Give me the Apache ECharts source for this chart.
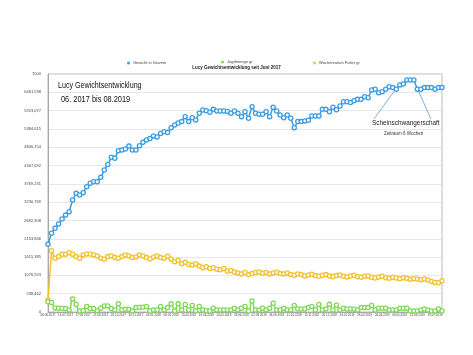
<!DOCTYPE html>
<html><head><meta charset="utf-8">
<script src="https://cdn.jsdelivr.net/npm/echarts@6/dist/echarts.min.js"></script>
<style>html,body{margin:0;padding:0;background:#fff}#c{width:473px;height:355px}</style>
</head><body><div id="c"></div>
<script>
const dates = [
'08.06.2017','15.06.2017','22.06.2017','29.06.2017','06.07.2017','13.07.2017','20.07.2017','27.07.2017',
'03.08.2017','10.08.2017','17.08.2017','24.08.2017','31.08.2017','07.09.2017','14.09.2017','21.09.2017','28.09.2017',
'05.10.2017','12.10.2017','19.10.2017','26.10.2017','02.11.2017','09.11.2017','16.11.2017','23.11.2017','30.11.2017',
'07.12.2017','14.12.2017','21.12.2017','28.12.2017',
'04.01.2018','11.01.2018','18.01.2018','25.01.2018','01.02.2018','08.02.2018','15.02.2018','22.02.2018',
'01.03.2018','08.03.2018','15.03.2018','22.03.2018','29.03.2018','05.04.2018','12.04.2018','19.04.2018','26.04.2018',
'03.05.2018','10.05.2018','17.05.2018','24.05.2018','31.05.2018','07.06.2018','14.06.2018','21.06.2018','28.06.2018',
'05.07.2018','12.07.2018','19.07.2018','26.07.2018','02.08.2018','09.08.2018','16.08.2018','23.08.2018','30.08.2018',
'06.09.2018','13.09.2018','20.09.2018','27.09.2018','04.10.2018','11.10.2018','18.10.2018','25.10.2018',
'01.11.2018','08.11.2018','15.11.2018','22.11.2018','29.11.2018','06.12.2018','13.12.2018','20.12.2018','27.12.2018',
'03.01.2019','10.01.2019','17.01.2019','24.01.2019','31.01.2019','07.02.2019','14.02.2019','21.02.2019','28.02.2019',
'07.03.2019','14.03.2019','21.03.2019','28.03.2019','04.04.2019','11.04.2019','18.04.2019','25.04.2019',
'02.05.2019','09.05.2019','16.05.2019','23.05.2019','30.05.2019','06.06.2019','13.06.2019','20.06.2019','27.06.2019',
'04.07.2019','11.07.2019','18.07.2019','25.07.2019','01.08.2019'
];
const gewicht = [
1990,2315,2460,2590,2735,2850,2950,3295,3490,3440,3510,3685,3785,3830,3830,3960,4175,4340,4550,4520,
4745,4765,4795,4880,4765,4765,4890,4990,5060,5100,5180,5150,5250,5300,5280,5420,5500,5560,5600,5745,
5600,5715,5650,5845,5940,5920,5875,5960,5910,5910,5910,5900,5845,5910,5845,5745,5890,5700,6040,5845,
5815,5815,5890,5745,6020,5910,5795,5715,5795,5700,5420,5600,5600,5620,5640,5765,5765,5765,5960,5960,
5890,6020,5950,6060,6185,6185,6160,6215,6255,6255,6330,6300,6530,6550,6450,6480,6550,6625,6600,6550,
6680,6705,6825,6825,6825,6550,6550,6600,6600,6600,6550,6600,6600
];
const jagd = [
300,280,120,110,110,100,60,380,220,30,40,160,100,100,40,110,180,180,100,60,
240,60,80,80,30,130,140,140,160,30,60,60,160,60,130,240,30,240,60,220,
60,190,30,160,60,40,30,110,60,60,60,60,60,110,60,110,160,30,320,60,
60,110,60,110,255,60,60,110,60,60,190,90,90,90,130,160,60,220,60,90,
225,60,205,60,110,90,90,90,60,130,130,130,190,60,110,110,110,60,60,60,
110,110,110,30,30,30,60,90,60,30,30,90,30
];
const futter = [
353,1800,1580,1630,1700,1700,1745,1700,1630,1580,1680,1705,1705,1680,1650,1580,1550,1630,1650,1600,
1580,1630,1680,1650,1600,1620,1680,1650,1600,1560,1620,1650,1600,1580,1640,1560,1480,1520,1420,1460,
1400,1380,1420,1350,1300,1330,1280,1300,1260,1240,1280,1200,1220,1180,1150,1120,1160,1100,1130,1160,
1180,1140,1160,1120,1150,1170,1130,1120,1150,1100,1080,1120,1100,1060,1090,1110,1070,1050,1080,1100,
1060,1040,1070,1090,1050,1030,1060,1080,1040,1020,1050,1060,1020,1000,1030,1050,1010,990,1020,1000,
980,1010,990,960,980,970,950,970,940,900,870,860,920
];
const seriesNames = ['Gewicht in Gramm','Jagdmenge gr','Wochenration Futter gr'];
const colors = ['#3a9de2','#7fd955','#f2c02e'];

const chart = echarts.init(document.getElementById('c'), null, {renderer:'canvas'});
function fmt(v){ const r=Math.round(v*1000)/1000; if (Math.abs(r-Math.round(r))<1e-6) return String(Math.round(r)); return r.toFixed(3).replace('.',','); }
function mkSeries(i, data, smooth){
  return {name: seriesNames[i], type:'line', data: data, smooth: smooth, symbol:'circle', symbolSize:4.2, showSymbol:true, showAllSymbol:true,
    itemStyle:{color:'#fff', borderColor: colors[i], borderWidth:1.3},
    lineStyle:{color: colors[i], width:1.5}, z: 3-i};
}
function mkLegend(i, left, top){
  return {data:[{name:seriesNames[i], itemStyle:{color:colors[i], borderWidth:0}}], left:left, top:top, icon:'circle', itemWidth:3, itemHeight:3, itemGap:2,
    textStyle:{fontSize:4, color:'#444', fontFamily:'Liberation Sans', padding:[0,0,0,-2]}, padding:0};
}
chart.setOption({
  animation:false,
  backgroundColor:'#fff',
  title:{text:'Lucy Gewichtsentwicklung seit Juni 2017', left:'center', top:65, padding:0,
    textStyle:{fontSize:4.5, fontWeight:'bold', color:'#222', fontFamily:'Liberation Sans'}},
  legend:[mkLegend(0,127,61), mkLegend(1,221,60), mkLegend(2,313,61)],
  grid:{left:48, right:31, top:74, bottom:43, show:true, borderColor:'#aaa', borderWidth:0.8, backgroundColor:'transparent'},
  xAxis:{type:'category', data:dates, boundaryGap:false,
    axisLine:{lineStyle:{color:'#999', width:0.8}}, axisTick:{show:false},
    axisLabel:{interval:4, fontSize:3, color:'#444', margin:2, fontFamily:'Liberation Sans'}},
  yAxis:{type:'value', min:0, max:7000, interval:7000/13,
    axisLine:{show:true, lineStyle:{color:'#999', width:0.8}}, axisTick:{show:false},
    splitLine:{lineStyle:{color:'#e2e2e2', width:0.8}},
    axisLabel:{formatter:fmt, fontSize:4, color:'#444', margin:7, fontFamily:'Liberation Sans'}},
  series:[mkSeries(0,gewicht,false), mkSeries(1,jagd,true), mkSeries(2,futter,false)],
  graphic:[
    {type:'text', left:58, top:80, scaleX:0.75, z:10, style:{text:'Lucy Gewichtsentwicklung', font:'9.5px "Liberation Sans"', fill:'#111'}},
    {type:'text', left:61, top:94, scaleX:0.78, z:10, style:{text:'06. 2017 bis 08.2019', font:'9.5px "Liberation Sans"', fill:'#111'}},
    {type:'text', left:372, top:119, scaleX:0.8, z:10, style:{text:'Scheinschwangerschaft', font:'8px "Liberation Sans"', fill:'#222'}},
    {type:'text', left:384, top:131, z:10, style:{text:'Zeitraum 6 Wochen', font:'4.5px "Liberation Sans"', fill:'#333'}},
    {type:'line', z:10, shape:{x1:374, y1:119, x2:395, y2:90}, style:{stroke:'#4a8cc4', lineWidth:0.7}},
    {type:'line', z:10, shape:{x1:431, y1:119, x2:418, y2:90}, style:{stroke:'#4a8cc4', lineWidth:0.7}}
  ]
});
</script></body></html>
